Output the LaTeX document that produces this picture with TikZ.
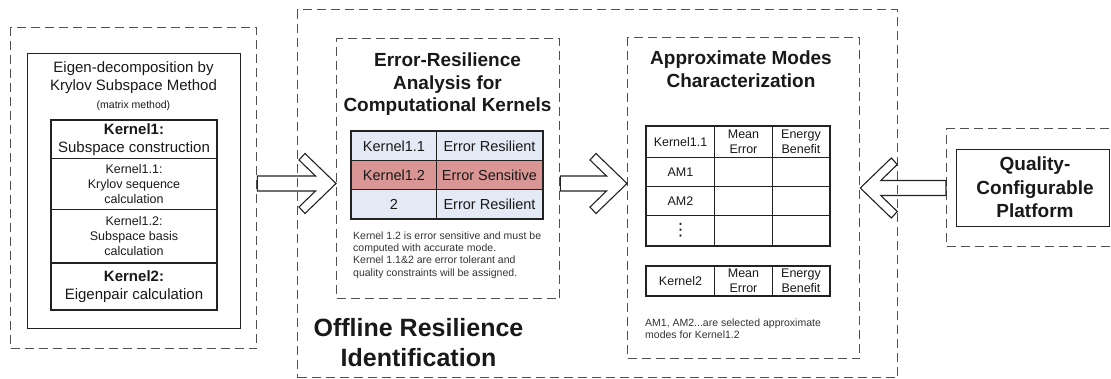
\documentclass[tikz,border=0pt]{standalone}
\usepackage{fontspec}
\setmainfont{Liberation Sans}
\newfontfamily\symbolfont{DejaVu Sans}
\usetikzlibrary{calc}

\definecolor{dashgray}{HTML}{505050}
\definecolor{linegray}{HTML}{222222}
\definecolor{cellblue}{HTML}{E4EAF5}
\definecolor{cellred}{HTML}{D99694}
\definecolor{notegray}{HTML}{333333}

\newcommand{\fs}[2]{\fontsize{#1}{#2}\selectfont}

% hollow block arrow: #1 tail, #2 tip, #3 = 1 (points right) or -1 (points left)
\newcommand{\fatarrow}[3]{%
  \draw[fatarrowline]
    ($(#1)+(0,-7.5)$) -- ($(#2)+({-20.5*(#3)},-7.5)$) -- ($(#2)+({-37*(#3)},-23.5)$)
    -- ($(#2)+({-31*(#3)},-30)$) -- (#2) -- ($(#2)+({-31*(#3)},30)$)
    -- ($(#2)+({-37*(#3)},23.5)$) -- ($(#2)+({-20.5*(#3)},7.5)$) -- ($(#1)+(0,7.5)$) -- cycle;}

\tikzset{
  x=1pt, y=-1pt,
  dashbox/.style={draw=dashgray, line width=1.3pt, dash pattern=on 9pt off 5pt,
    anchor=north west, inner sep=0pt},
  solidbox/.style={draw=linegray, line width=1.4pt, anchor=north west, inner sep=0pt},
  cell/.style={draw=linegray, line width=1pt, anchor=north west, inner sep=0pt,
    align=center, text=black!90},
  txt/.style={inner sep=0pt, align=center, text=black!90},
  note/.style={inner sep=0pt, anchor=west, align=left, text=notegray, font=\fs{10.5}{12.3}},
  fatarrowline/.style={draw=linegray, line width=1.1pt, line join=miter},
}

\begin{document}
\begin{tikzpicture}
\useasboundingbox (0,0) rectangle (1111,379);

% ---------- left: the eigen-decomposition method ----------
\node[dashbox, minimum width=246pt, minimum height=321pt] (outerL) at (10,27) {};
\node[solidbox, minimum width=213pt, minimum height=275pt] (method) at (27,53) {};
\node[txt, font=\fs{15}{18}] (eigtitle) at (133.5,78) {Eigen-decomposition by\\Krylov Subspace Method};
\node[txt, font=\fs{10.5}{12}] (mm) at (133.5,106) {(matrix method)};

\node[cell, minimum width=165pt, minimum height=38pt, font=\fs{15}{18}] (k1) at (51,120)
  {\textbf{Kernel1:}\\Subspace construction};
\node[cell, minimum width=165pt, minimum height=51pt, font=\fs{12.5}{15}] (k11) at (51,158)
  {Kernel1.1:\\Krylov sequence\\calculation};
\node[cell, minimum width=165pt, minimum height=54pt, font=\fs{12.5}{15}] (k12) at (51,209)
  {Kernel1.2:\\Subspace basis\\calculation};
\node[cell, minimum width=165pt, minimum height=46pt, font=\fs{15}{18}] (k2) at (51,263)
  {\textbf{Kernel2:}\\Eigenpair calculation};
\draw[linegray, line width=1.5pt] (k1.north west) rectangle (k2.south east);
\draw[linegray, line width=1.5pt] (k2.north west) -- (k2.north east);

% ---------- middle: offline resilience identification ----------
\node[dashbox, minimum width=600pt, minimum height=368pt] (outerM) at (297,9) {};
\node[txt, font=\bfseries\fs{25}{30}] (offline) at (418.5,343) {Offline Resilience\\Identification};

% error-resilience analysis
\node[dashbox, minimum width=223pt, minimum height=260pt] (errbox) at (336,38) {};
\node[txt, font=\bfseries\fs{19}{22.5}] (errtitle) at (447.5,84.5)
  {Error-Resilience\\Analysis for\\Computational Kernels};

\begin{scope}[every node/.append style={font=\fs{14.5}{17}}]
\node[cell, fill=cellblue, minimum width=85pt, minimum height=29pt] (e11) at (351,131) {Kernel1.1};
\node[cell, fill=cellblue, minimum width=106pt, minimum height=29pt] (e12) at (436,131) {Error Resilient};
\node[cell, fill=cellred, minimum width=85pt, minimum height=29pt] (e21) at (351,160) {Kernel1.2};
\node[cell, fill=cellred, minimum width=106pt, minimum height=29pt] (e22) at (436,160) {Error Sensitive};
\node[cell, fill=cellblue, minimum width=85pt, minimum height=29pt] (e31) at (351,189) {2};
\node[cell, fill=cellblue, minimum width=106pt, minimum height=29pt] (e32) at (436,189) {Error Resilient};
\end{scope}
\draw[linegray, line width=1.4pt] (e11.north west) rectangle (e32.south east);

\node[note] (errnote) at (353,255) {Kernel 1.2 is error sensitive and must be\\computed with accurate mode.\\Kernel 1.1\&2 are error tolerant and\\quality constraints will be assigned.};

% approximate modes characterization
\node[dashbox, minimum width=232pt, minimum height=321pt] (ambox) at (627,37) {};
\node[txt, font=\bfseries\fs{19}{23}] (amtitle) at (741,69.5) {Approximate Modes\\Characterization};

\begin{scope}[every node/.append style={font=\fs{12.5}{15}}]
\node[cell, minimum width=68pt, minimum height=31pt] (h1) at (646,126) {Kernel1.1};
\node[cell, minimum width=58pt, minimum height=31pt] (h2) at (714,126) {Mean\\Error};
\node[cell, minimum width=57pt, minimum height=31pt] (h3) at (772,126) {Energy\\Benefit};
\node[cell, minimum width=68pt, minimum height=29pt] (r11) at (646,157) {AM1};
\node[cell, minimum width=58pt, minimum height=29pt] (r12) at (714,157) {};
\node[cell, minimum width=57pt, minimum height=29pt] (r13) at (772,157) {};
\node[cell, minimum width=68pt, minimum height=29pt] (r21) at (646,186) {AM2};
\node[cell, minimum width=58pt, minimum height=29pt] (r22) at (714,186) {};
\node[cell, minimum width=57pt, minimum height=29pt] (r23) at (772,186) {};
\node[cell, minimum width=68pt, minimum height=30pt, font=\symbolfont\fs{17}{17}] (r31) at (646,215) {⋮};
\node[cell, minimum width=58pt, minimum height=30pt] (r32) at (714,215) {};
\node[cell, minimum width=57pt, minimum height=30pt] (r33) at (772,215) {};
\node[cell, minimum width=68pt, minimum height=29pt] (t1) at (646,266) {Kernel2};
\node[cell, minimum width=58pt, minimum height=29pt] (t2) at (714,266) {Mean\\Error};
\node[cell, minimum width=57pt, minimum height=29pt] (t3) at (772,266) {Energy\\Benefit};
\end{scope}
\draw[linegray, line width=1.4pt] (h1.north west) rectangle (r33.south east);
\draw[linegray, line width=1.4pt] (t1.north west) rectangle (t3.south east);

\node[note] (amnote) at (645,329) {AM1, AM2...are selected approximate\\modes for Kernel1.2};

% ---------- right: the platform ----------
\node[dashbox, minimum width=169pt, minimum height=118pt] (outerR) at (946,128) {};
\node[solidbox, minimum width=153pt, minimum height=77pt] (platform) at (956,149) {};
\node[txt, font=\bfseries\fs{19}{23.5}] (qtitle) at (1035,187.5) {Quality-\\Configurable\\Platform};

% ---------- block arrows ----------
\coordinate (a1tail) at (outerL.east |- 0,183.5);
\coordinate (a1tip)  at (errbox.west |- 0,183.5);
\coordinate (a2tail) at (errbox.east |- 0,183.5);
\coordinate (a2tip)  at (ambox.west |- 0,183.5);
\coordinate (a3tail) at (outerR.west |- 0,188);
\coordinate (a3tip)  at (ambox.east |- 0,188);
\fatarrow{a1tail}{a1tip}{1}
\fatarrow{a2tail}{a2tip}{1}
\fatarrow{a3tail}{a3tip}{-1}
\end{tikzpicture}
\end{document}
